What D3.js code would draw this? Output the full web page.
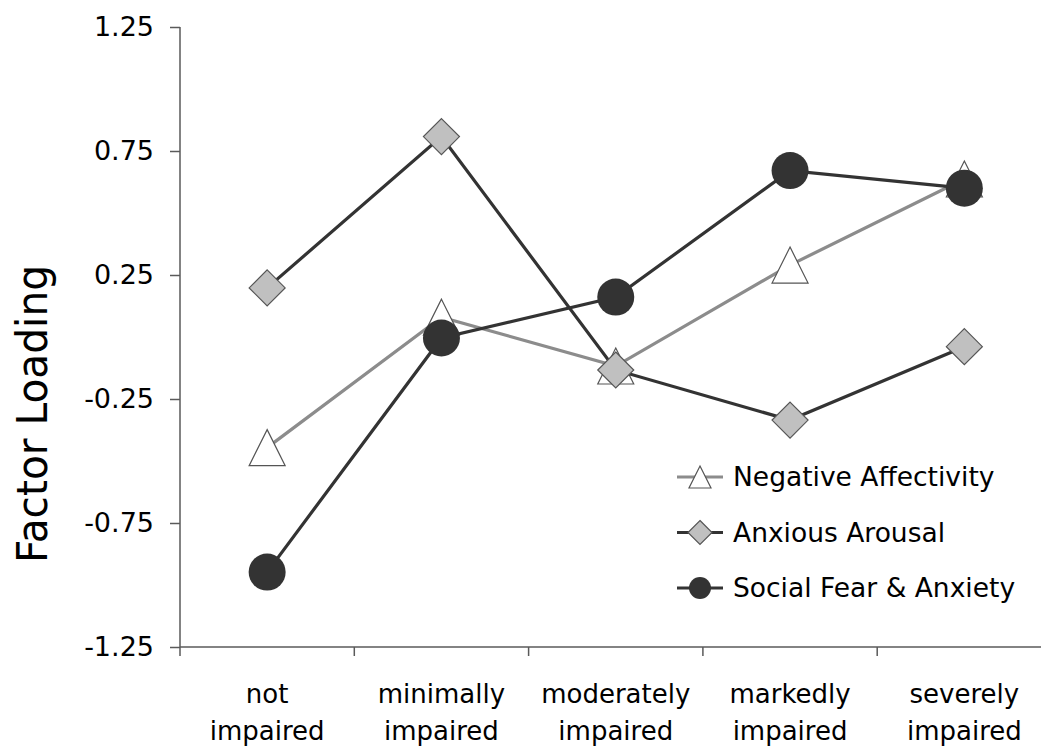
<!DOCTYPE html>
<html>
<head>
<meta charset="utf-8">
<script src="https://cdn.jsdelivr.net/npm/d3@7/dist/d3.min.js"></script>
<style>
  html, body { margin: 0; padding: 0; background: #fff; }
  svg { display: block; font-family: "DejaVu Sans", sans-serif; }
</style>
</head>
<body>
<svg id="chart" width="1041" height="750"></svg>
<script>
const categories = [["not", "impaired"], ["minimally", "impaired"], ["moderately", "impaired"], ["markedly", "impaired"], ["severely", "impaired"]];
const categoryKeys = ["not impaired", "minimally impaired", "moderately impaired", "markedly impaired", "severely impaired"];
const negativeAffectivity = [-0.446, 0.08, -0.117, 0.29, 0.637];
const anxiousArousal = [0.198, 0.808, -0.133, -0.335, -0.039];
const socialFear = [-0.948, -0.004, 0.161, 0.671, 0.60];
const yTicks = [1.25, 0.75, 0.25, -0.25, -0.75, -1.25];
const yTickLabels = ["1.25", "0.75", "0.25", "-0.25", "-0.75", "-1.25"];
const seriesNames = ["Negative Affectivity", "Anxious Arousal", "Social Fear & Anxiety"];

(function () {
const svg = d3.select("#chart");
const plotLeft = 180, bandW = 174.3, plotTop = 27, plotBottom = 647;

const x = d3.scaleBand().domain(categoryKeys).range([plotLeft, plotLeft + bandW * 5]).paddingInner(0).paddingOuter(0);
const y = d3.scaleLinear().domain([-1.25, 1.25]).range([plotBottom, plotTop]);
const cx = k => x(k) + x.bandwidth() / 2;

const axisColor = "#5a5a5a";
const dark = "#333333";
const grayLine = "#8c8c8c";

// Y axis
const yAxis = d3.axisLeft(y).tickValues(yTicks).tickFormat((d, i) => yTickLabels[i]).tickSize(10).tickPadding(16);
const gy = svg.append("g").attr("transform", `translate(${plotLeft},0)`).call(yAxis);
gy.select(".domain").remove();
gy.selectAll(".tick line").attr("stroke", axisColor).attr("stroke-width", 1.5);
gy.selectAll(".tick text").attr("font-size", 27).attr("fill", "#000").attr("font-family", "DejaVu Sans");
svg.append("line").attr("x1", plotLeft).attr("x2", plotLeft).attr("y1", plotTop).attr("y2", plotBottom + 9)
  .attr("stroke", axisColor).attr("stroke-width", 1.5);

// X axis
svg.append("line").attr("x1", plotLeft).attr("x2", plotLeft + bandW * 5).attr("y1", plotBottom).attr("y2", plotBottom)
  .attr("stroke", axisColor).attr("stroke-width", 1.5);
const boundaries = categoryKeys.map(k => x(k) + x.bandwidth());
svg.selectAll(".xtick").data(boundaries).enter().append("line")
  .attr("x1", d => d).attr("x2", d => d).attr("y1", plotBottom).attr("y2", plotBottom + 9)
  .attr("stroke", axisColor).attr("stroke-width", 1.5);
const xl = svg.selectAll(".xlab").data(categories).enter().append("text")
  .attr("text-anchor", "middle").attr("font-size", 26).attr("fill", "#000");
xl.append("tspan").attr("x", (d, i) => cx(categoryKeys[i])).attr("y", 703).text(d => d[0]);
xl.append("tspan").attr("x", (d, i) => cx(categoryKeys[i])).attr("y", 740).text(d => d[1]);

// Y title
svg.append("text").attr("transform", `translate(47,414) rotate(-90)`)
  .attr("text-anchor", "middle").attr("font-size", 42).attr("fill", "#000")
  .attr("textLength", 298).attr("lengthAdjust", "spacingAndGlyphs").text("Factor Loading");

// marker helpers
function triangle(g, s) {
  return g.append("path").attr("d", `M0,${-s / 2}L${s / 2},${s / 2}L${-s / 2},${s / 2}Z`)
    .attr("fill", "#fff").attr("stroke", "#555").attr("stroke-width", 1.2);
}
function diamond(g, s) {
  return g.append("path").attr("d", `M0,${-s / 2}L${s / 2},0L0,${s / 2}L${-s / 2},0Z`)
    .attr("fill", "#c0c0c0").attr("stroke", "#555").attr("stroke-width", 1.2);
}
function circle(g, s) {
  return g.append("circle").attr("r", s / 2).attr("fill", dark);
}

const series = [
  { name: seriesNames[0], values: negativeAffectivity, color: grayLine, marker: triangle, size: 36, lsize: 22 },
  { name: seriesNames[1], values: anxiousArousal, color: dark, marker: diamond, size: 36, lsize: 24 },
  { name: seriesNames[2], values: socialFear, color: dark, marker: circle, size: 37, lsize: 22 }
];

const line = d3.line().x((d, i) => cx(categoryKeys[i])).y(d => y(d));

series.forEach(s => {
  svg.append("path").attr("d", line(s.values)).attr("fill", "none")
    .attr("stroke", s.color).attr("stroke-width", 3.2);
  s.values.forEach((v, i) => {
    const g = svg.append("g").attr("transform", `translate(${cx(categoryKeys[i])},${y(v)})`);
    s.marker(g, s.size);
  });
});

// Legend
const legY = [477, 532.5, 588];
series.forEach((s, i) => {
  const g = svg.append("g").attr("transform", `translate(700,${legY[i]})`);
  g.append("line").attr("x1", -23).attr("x2", 23).attr("y1", 0).attr("y2", 0)
    .attr("stroke", s.color).attr("stroke-width", 3.2);
  s.marker(g, s.lsize);
  g.append("text").attr("x", 33).attr("y", 0).attr("dy", "0.35em")
    .attr("font-size", 26.5).attr("fill", "#000").text(s.name);
});
})();
</script>
</body>
</html>
